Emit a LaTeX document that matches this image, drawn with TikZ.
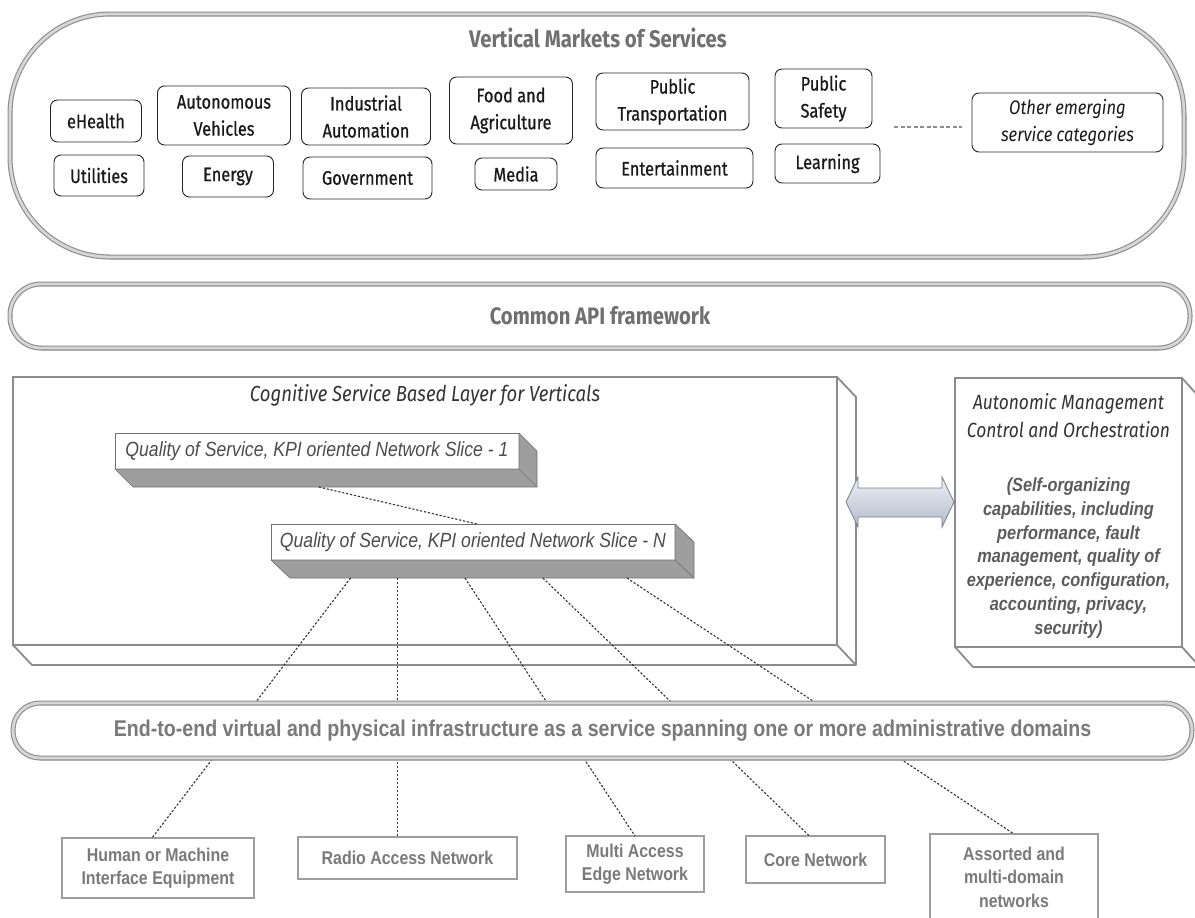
\documentclass[tikz,border=0pt]{standalone}
\usepackage{fontspec}
\usepackage{tikz}
\usetikzlibrary{calc, shadows}
\definecolor{FrameGray}{RGB}{140, 140, 140}
\definecolor{BevelGray}{RGB}{214, 214, 214}
\definecolor{TitleGray}{RGB}{112, 112, 112}
\definecolor{SliceGray}{RGB}{158, 158, 158}
\definecolor{LabelGray}{RGB}{122, 122, 122}
\definecolor{ArrowTop}{RGB}{236, 239, 245}
\definecolor{ArrowBottom}{RGB}{178, 188, 204}
\definecolor{ArrowEdge}{RGB}{120, 128, 140}
\newfontfamily\dinfont[FakeStretch=0.84, FakeBold=0.7]{Fira Sans}
\newfontfamily\dintitle[FakeStretch=0.85]{Fira Sans}
\newfontfamily\narrowfont[FakeStretch=0.86]{Liberation Sans}

\begin{document}
\begin{tikzpicture}[x=1pt, y=-1pt,
    bevel/.style={draw=FrameGray, line width=1.1pt, double=BevelGray, double distance=2.8pt, fill=white,
      outer sep=0pt, drop shadow={shadow xshift=0.6pt, shadow yshift=-2.4pt, opacity=0.4}},
    svc/.style={draw=black!85, line width=0.9pt, rounded corners=7pt, fill=white, align=center,
      inner sep=1pt, outer sep=0pt, text=black!90, font=\dinfont\fontsize{19.5}{27}\selectfont},
    layer/.style={draw=FrameGray, line width=1.8pt, fill=white, outer sep=0pt, inner sep=0pt},
    layeredge/.style={draw=FrameGray, line width=1.8pt, line join=round},
    slice/.style={draw=black!55, line width=0.7pt, fill=white, outer sep=0pt, inner sep=0pt,
      minimum width=404pt, minimum height=36pt, text=black!70,
      font=\narrowfont\itshape\fontsize{20.5}{22}\selectfont},
    depth/.style={fill=SliceGray, draw=black!55, line width=0.7pt, line join=round},
    netbox/.style={draw=FrameGray!85, line width=1.6pt, fill=white, align=center, outer sep=0pt,
      text=LabelGray, font=\narrowfont\bfseries\fontsize{18.5}{23.5}\selectfont},
    link/.style={draw=black!80, line width=1.1pt, dash pattern=on 2.2pt off 1.8pt}
  ]
  \useasboundingbox[fill=white] (0,0) rectangle (1195,918);

  % Vertical markets
  \node[bevel, rounded corners=100pt, minimum width=1174pt, minimum height=243pt] (markets) at (597,135.5) {};
  \node[text=TitleGray, font=\dintitle\bfseries\fontsize{24}{26}\selectfont] (marketstitle) at (598,38) {Vertical Markets of Services};
  \node[svc, minimum width=91pt, minimum height=42pt] (ehealth) at (96,121) {eHealth};
  \node[svc, minimum width=90pt, minimum height=41pt] (utilities) at (99,175.5) {Utilities};
  \node[svc, minimum width=133pt, minimum height=59pt] (auto) at (224,115.5) {Autonomous\\Vehicles};
  \node[svc, minimum width=91pt, minimum height=41pt] (energy) at (228,176.5) {Energy};
  \node[svc, minimum width=129pt, minimum height=57pt] (industry) at (366,116.5) {Industrial\\Automation};
  \node[svc, minimum width=129pt, minimum height=42pt] (gov) at (367.5,178) {Government};
  \node[svc, minimum width=123pt, minimum height=67pt] (food) at (511,110.5) {Food and\\Agriculture};
  \node[svc, minimum width=82pt, minimum height=32pt] (media) at (516,174) {Media};
  \node[svc, minimum width=153pt, minimum height=57pt] (transport) at (672.5,101.5) {Public\\Transportation};
  \node[svc, minimum width=157pt, minimum height=40pt] (entertain) at (674.5,168) {Entertainment};
  \node[svc, minimum width=97pt, minimum height=59pt] (safety) at (823.5,98.5) {Public\\Safety};
  \node[svc, minimum width=105pt, minimum height=39pt] (learning) at (827.5,163.5) {Learning};
  \node[svc, minimum width=191pt, minimum height=59pt, font=\dintitle\itshape\fontsize{19.5}{27}\selectfont] (other) at (1067.5,122.5) {Other emerging\\service categories};
  \coordinate (dotsa) at (894,127);
  \coordinate (dotsb) at (962,127);
  \draw[FrameGray, line width=1.6pt, dash pattern=on 4pt off 2.5pt] (dotsa) -- (dotsb);

  % API framework
  \node[bevel, rounded corners=31pt, minimum width=1180pt, minimum height=64pt, text=TitleGray,
    font=\dintitle\bfseries\fontsize{23.8}{26}\selectfont] (api) at (600,316) {Common API framework};

  % Cognitive layer
  \node[layer, minimum width=824pt, minimum height=268pt] (cog) at (425,511) {};
  \draw[layeredge] (cog.north east) -- ++(19,20) -- ($(cog.south east)+(19,20)$) -- ($(cog.south west)+(19,20)$) -- (cog.south west);
  \draw[layeredge] (cog.south east) -- ++(19,20);
  \node[text=black!80, font=\dintitle\itshape\fontsize{21.8}{24}\selectfont] (cogtitle) at (425,395) {Cognitive Service Based Layer for Verticals};

  % Autonomic management
  \node[layer, minimum width=227pt, minimum height=269pt] (amc) at (1068.5,512.5) {};
  \draw[layeredge] (amc.north east) -- ++(18,20) -- ($(amc.south east)+(18,20)$) -- ($(amc.south west)+(18,20)$) -- (amc.south west);
  \draw[layeredge] (amc.south east) -- ++(18,20);
  \node[text=black!80, align=center, font=\dintitle\itshape\fontsize{20.5}{28}\selectfont] (amtitle) at (1068.5,416) {Autonomic Management\\Control and Orchestration};
  \node[text=black!64, align=center, font=\narrowfont\bfseries\itshape\fontsize{19}{23.8}\selectfont] (ambody) at (1068.5,558) {(Self-organizing\\capabilities, including\\performance, fault\\management, quality of\\experience, configuration,\\accounting, privacy,\\security)};

  % Network slices
  \node[slice] (slice1) at (317,451) {Quality of Service, KPI oriented Network Slice - 1};
  \draw[depth] (slice1.north east) -- ++(18,18) -- ($(slice1.south east)+(18,18)$) -- ($(slice1.south west)+(18,18)$) -- (slice1.south west) -- (slice1.south east) -- cycle;
  \draw[depth, fill=none] (slice1.south east) -- ++(18,18);
  \node[slice] (sliceN) at (473,542) {Quality of Service, KPI oriented Network Slice - N};
  \draw[depth] (sliceN.north east) -- ++(19,18) -- ($(sliceN.south east)+(19,18)$) -- ($(sliceN.south west)+(19,18)$) -- (sliceN.south west) -- (sliceN.south east) -- cycle;
  \draw[depth, fill=none] (sliceN.south east) -- ++(19,18);

  % Bottom networks
  \node[netbox, minimum width=192pt, minimum height=60pt] (hmi) at (158,868) {Human or Machine\\Interface Equipment};
  \node[netbox, minimum width=219pt, minimum height=42pt] (ran) at (407.5,858) {Radio Access Network};
  \node[netbox, minimum width=138pt, minimum height=56pt] (mec) at (635,864) {Multi Access\\Edge Network};
  \node[netbox, minimum width=139pt, minimum height=47pt] (core) at (815.5,859.5) {Core Network};
  \node[netbox, minimum width=168pt, minimum height=86pt] (assorted) at (1014,877) {Assorted and\\multi-domain\\networks};

  % Dotted links
  \draw[link] ($(slice1.south west)!0.46!(slice1.south east)+(18,18)$) -- ($(sliceN.north west)!0.51!(sliceN.north east)$);
  \draw[link] ($(sliceN.south west)!0.15!(sliceN.south east)+(19,18)$) -- ($(hmi.north)+(-6,0)$);
  \draw[link] ($(sliceN.south west)!0.267!(sliceN.south east)+(19,18)$) coordinate (ranup) -- (ranup |- ran.north);
  \draw[link] ($(sliceN.south west)!0.433!(sliceN.south east)+(19,18)$) -- (mec.north);
  \draw[link] ($(sliceN.south west)!0.626!(sliceN.south east)+(19,18)$) -- ($(core.north)+(-6,0)$);
  \draw[link] ($(sliceN.south west)!0.834!(sliceN.south east)+(19,18)$) -- (assorted.north);

  % Infrastructure bar
  \node[bevel, rounded corners=27pt, minimum width=1179pt, minimum height=55pt, text=LabelGray,
    font=\narrowfont\bfseries\fontsize{22.8}{26}\selectfont] (infra) at (602.5,730.5) {End-to-end virtual and physical infrastructure as a service spanning one or more administrative domains};

  % Management link
  \coordinate (amleft) at (846,502);
  \coordinate (amright) at (954,502);
  \draw[draw=ArrowEdge, line width=0.8pt, top color=ArrowTop, bottom color=ArrowBottom]
    (amleft) -- ++(12,-25) -- ++(0,11) -- ($(amright)+(-12,-14)$) -- ++(0,-11) -- (amright)
    -- ++(-12,25) -- ++(0,-10) -- ($(amleft)+(12,15)$) -- ++(0,10) -- cycle;
\end{tikzpicture}
\end{document}
